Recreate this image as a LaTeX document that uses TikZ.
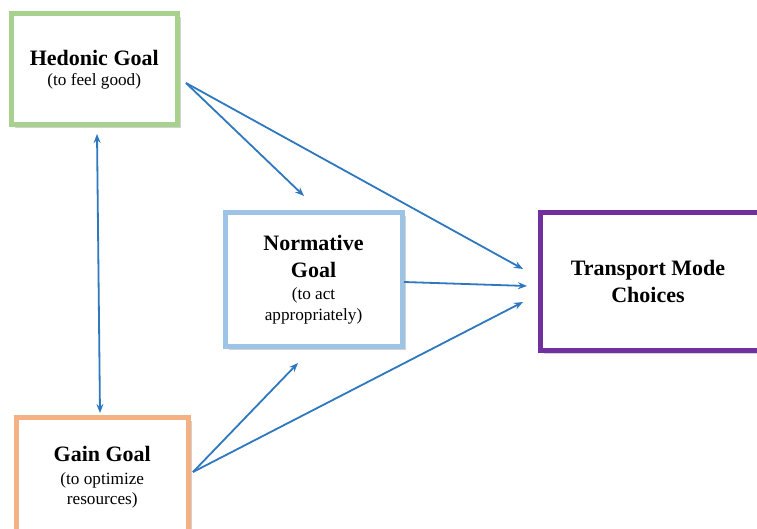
\documentclass[tikz,border=0pt]{standalone}
\usepackage{fontspec}
\setmainfont{Liberation Serif}
\usetikzlibrary{arrows.meta,shadows}

\definecolor{hedgreen}{HTML}{A9D18E}
\definecolor{normblue}{HTML}{9DC3E6}
\definecolor{modepurple}{HTML}{7030A0}
\definecolor{gainorange}{HTML}{F4B183}
\definecolor{linkblue}{HTML}{2E78C0}

\newcommand\goaltitle{\fontsize{22}{26}\selectfont\bfseries}
\newcommand\goalsub{\fontsize{17.2}{26}\selectfont\mdseries}

\begin{document}
\begin{tikzpicture}[x=1pt,y=-1pt,
  goalbox/.style={draw=#1, line width=5pt, fill=white, align=center,
    inner sep=0pt, font=\goaltitle,
    drop shadow={shadow xshift=3.5pt, shadow yshift=-3.5pt,
      opacity=0.25, fill=black!70}},
  link/.style={draw=linkblue, line width=1.8pt,
    -{Stealth[length=9pt,width=7pt]}},
  twoway/.style={link, {Stealth[length=9pt,width=7pt]}-{Stealth[length=9pt,width=7pt]}}]

\useasboundingbox (0,0) rectangle (757,529);
\clip (0,0) rectangle (757,529);
\fill[white] (0,0) rectangle (757,529);

% goal boxes
\node[goalbox=hedgreen, minimum width=166.5pt, minimum height=111pt]
  (hedonic) at (94.25,69.5)
  {Hedonic Goal\\[-6pt]\goalsub (to feel good)};
\node[goalbox=normblue, minimum width=177pt, minimum height=133.5pt]
  (normative) at (313.5,279.25)
  {Normative\\[1pt]Goal\\[-4pt]\goalsub (to act\\[-5pt]\goalsub appropriately)};
\node[goalbox=modepurple, minimum width=222pt, minimum height=137pt]
  (mode) at (651,281.5)
  {\hspace*{-6pt}Transport Mode\\[1pt]\hspace*{-6pt}Choices};
\node[goalbox=gainorange, minimum width=172.5pt, minimum height=120pt]
  (gain) at (102.25,477.5)
  {Gain Goal\\[-3pt]\goalsub (to optimize\\[-6pt]\goalsub resources)};

% connector end points
\coordinate (hedout)   at (186,83);
\coordinate (gainout)  at (193,472);
\coordinate (normin)   at (304,196);
\coordinate (normin2)  at (298,363);
\coordinate (modein1)  at (523,269);
\coordinate (modein2)  at (527,286);
\coordinate (modein3)  at (523,302);
\coordinate (normout)  at (404,282);
\coordinate (hedbot)   at (97,134);
\coordinate (gaintop)  at (100,413);

% connectors
\draw[link] (hedout) -- (normin);
\draw[link] (hedout) -- (modein1);
\draw[link] (normout) -- (modein2);
\draw[link] (gainout) -- (normin2);
\draw[link] (gainout) -- (modein3);
\draw[twoway] (hedbot) -- (gaintop);

\end{tikzpicture}
\end{document}
